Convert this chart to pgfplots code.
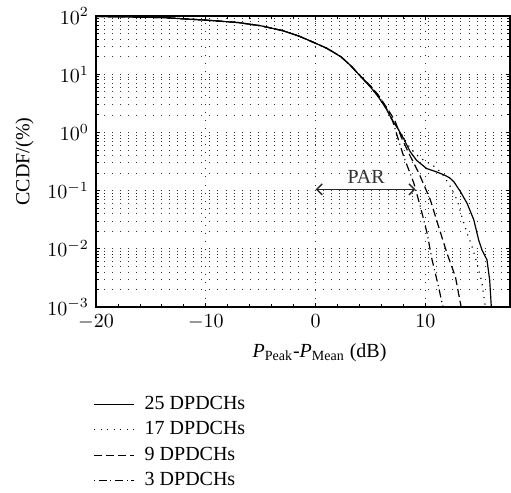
\documentclass[border=0pt]{standalone}
\usepackage{fontspec}
\setmainfont{Liberation Serif}
\usepackage{pgfplots}
\pgfplotsset{compat=1.18}
\usetikzlibrary{arrows.meta}

\begin{document}
\begin{tikzpicture}
\begin{axis}[
  scale only axis,
  width=207pt, height=145.5pt,
  ymode=log,
  xmin=-20, xmax=17.7,
  ymin=1e-3, ymax=1e2,
  xtick={-20,-10,0,10},
  minor x tick num=4,
  ytick={1e-3,1e-2,1e-1,1e0,1e1,1e2},
  xmajorgrids, ymajorgrids, yminorgrids,
  grid style={black!80, line width=0.35pt, dash pattern=on 0.45pt off 3.6pt},
  minor grid style={black!80, line width=0.35pt, dash pattern=on 0.45pt off 3.6pt},
  major tick length=2.2pt, minor tick length=1.4pt,
  tick style={black, line width=0.4pt},
  axis line style={line width=0.7pt},
  tick align=inside,
  xticklabel style={yshift=-0.5pt},
  xlabel={\textit{P}\textsubscript{Peak}-\textit{P}\textsubscript{Mean} (dB)},
  xlabel style={at={(ticklabel cs:0.54)}},
  ylabel={CCDF/(\%)},
  legend style={at={(rel axis cs:-0.007,-0.292)}, anchor=north west, draw=none, fill=none,
    inner xsep=0pt, inner ysep=0pt, row sep=0.55pt},
  legend cell align=left,
  legend image code/.code={\draw[#1] (0pt,0pt) -- (20pt,0pt); \path (23pt,0pt);},
]
% 25 DPDCHs
\addplot[black, line width=0.6pt] coordinates {
(-20,98) (-17,96.5) (-14,94) (-10,85) (-7,77) (-5,68) (-3,56) (-1.5,45) (0,34) (1,28)
(2.3,20) (3.2,14) (4.1,9.1) (5,6) (5.7,4.1) (6.4,2.6) (7.0,1.6)
(7.5,1.15) (8.0,0.79) (8.6,0.47) (9.2,0.33) (10.1,0.24) (11.0,0.21) (11.7,0.186)
(12.2,0.166) (12.6,0.141) (13.2,0.095) (13.8,0.060) (14.4,0.0316) (14.85,0.0141)
(15.15,0.0095) (15.6,0.0065) (15.85,0.0029) (16.0,0.001)};
% 17 DPDCHs
\addplot[black, line width=0.6pt, dash pattern=on 0.55pt off 2.7pt] coordinates {
(-20,98) (-17,96.5) (-14,94) (-10,85) (-7,77) (-5,68) (-3,56) (-1.5,45) (0,34) (1,28)
(2.3,20) (3.2,14) (4.1,9.1) (5,6) (5.7,4.1) (6.4,2.6) (7.0,1.6)
(7.5,1.17) (8.0,0.82) (8.6,0.54) (9.4,0.38) (10.0,0.316) (10.6,0.28) (11.5,0.2)
(12.27,0.117) (12.88,0.069) (13.33,0.035) (13.79,0.0186) (14.24,0.011) (14.7,0.0056)
(15.15,0.0026) (15.45,0.001)};
% 9 DPDCHs
\addplot[black, line width=0.6pt, dash pattern=on 4pt off 2pt] coordinates {
(-20,98) (-17,96.5) (-14,94) (-10,85) (-7,77) (-5,68) (-3,56) (-1.5,45) (0,34) (1,28)
(2.3,20) (3.2,14) (4.1,9.3) (5,6.3) (5.7,4.4) (6.4,2.8) (7.2,1.62)
(7.8,0.83) (8.48,0.44) (9.4,0.2) (10.45,0.069) (11.2,0.024) (11.97,0.0083)
(12.73,0.0033) (13.25,0.001)};
% 3 DPDCHs
\addplot[black, line width=0.6pt, dash pattern=on 0.55pt off 1.8pt on 4pt off 1.8pt] coordinates {
(-20,98) (-17,96.5) (-14,94) (-10,85) (-7,77) (-5,68) (-3,56) (-1.5,45) (0,34) (1,28)
(2.3,20) (3.2,14) (4.1,9.2) (5,6.2) (5.7,4.3) (6.4,2.7) (7.0,1.6)
(7.5,0.79) (8.03,0.38) (8.94,0.135) (9.55,0.052) (10.15,0.0186) (10.6,0.0065)
(11.2,0.0022) (11.5,0.0012) (11.6,0.001)};
\legend{25 DPDCHs, 17 DPDCHs, 9 DPDCHs, 3 DPDCHs}
\draw[black!85, line width=0.7pt, {Straight Barb[length=2.8pt,width=5.5pt]}-{Straight Barb[length=2.8pt,width=5.5pt]}]
  (axis cs:0,0.105) -- (axis cs:9.1,0.105);
\node[text=black!80] at (axis cs:4.6,0.175) {PAR};
\end{axis}
\path (current axis.south west) ++(-48pt,-91pt) rectangle ++(255.5pt,244.5pt);
\end{tikzpicture}
\end{document}
